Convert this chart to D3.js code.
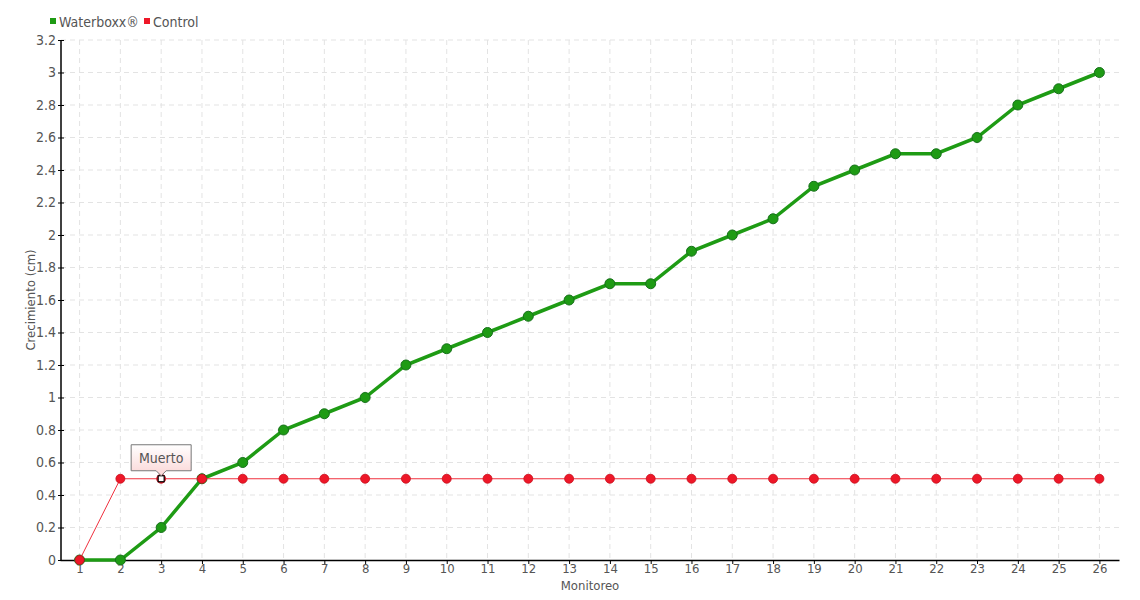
<!DOCTYPE html>
<html>
<head>
  <script src="https://d3js.org/d3.v7.min.js"></script>
  <style>
    body { margin: 0; background: #fff; }
    text { font-family: "Liberation Sans Narrow", "DejaVu Sans Condensed", "Roboto", sans-serif; fill: #555; }
  </style>
</head>
<body>
  <svg id="chart" width="1140" height="600"></svg>
  <script>
    // datos
    var monitoreo = d3.range(1, 27).map(String);
    var waterboxx = [0, 0, 0.2, 0.5, 0.6, 0.8, 0.9, 1.0, 1.2, 1.3, 1.4, 1.5, 1.6, 1.7, 1.7, 1.9, 2.0, 2.1, 2.3, 2.4, 2.5, 2.5, 2.6, 2.8, 2.9, 3.0];
    var control = [0, 0.5, 0.5, 0.5, 0.5, 0.5, 0.5, 0.5, 0.5, 0.5, 0.5, 0.5, 0.5, 0.5, 0.5, 0.5, 0.5, 0.5, 0.5, 0.5, 0.5, 0.5, 0.5, 0.5, 0.5, 0.5];
    var yTicks = [0, 0.2, 0.4, 0.6, 0.8, 1, 1.2, 1.4, 1.6, 1.8, 2, 2.2, 2.4, 2.6, 2.8, 3, 3.2];
    var muertoIndex = 2;

    var svg = d3.select("#chart");
    var pLeft = 61, pRight = 1119, pTop = 40, pBottom = 560;

    var x = d3.scalePoint().domain(monitoreo).range([pLeft - 1, pRight]).padding(0.48);
    var y = d3.scaleLinear().domain([0, 3.2]).range([pBottom, pTop]);

    // rejilla
    var grid = svg.append("g").attr("stroke", "#e3e3e3").attr("stroke-dasharray", "5,4");
    grid.selectAll(".h").data(yTicks.slice(1)).enter().append("line")
      .attr("x1", pLeft).attr("x2", pRight)
      .attr("y1", function(d) { return y(d); }).attr("y2", function(d) { return y(d); });
    grid.selectAll(".v").data(monitoreo).enter().append("line")
      .attr("x1", function(d) { return x(d); }).attr("x2", function(d) { return x(d); })
      .attr("y1", pTop).attr("y2", pBottom);

    // ejes
    var yAxis = svg.append("g").attr("transform", "translate(" + pLeft + ",0)")
      .call(d3.axisLeft(y).tickValues(yTicks).tickSize(3).tickFormat(d3.format("~g")));
    var xAxis = svg.append("g").attr("transform", "translate(0," + pBottom + ")")
      .call(d3.axisBottom(x).tickSize(4).tickSizeOuter(0));
    [yAxis, xAxis].forEach(function(a) {
      a.select(".domain").attr("stroke", "#000").attr("stroke-width", 1.5);
      a.selectAll(".tick line").attr("stroke", "#000");
      a.selectAll("text").attr("font-size", 14).attr("fill", "#555").attr("font-family", null);
    });
    yAxis.select(".domain").attr("d", "M0," + pTop + "V" + pBottom);
    yAxis.selectAll(".tick line").attr("x2", 3).attr("x1", -3);
    yAxis.selectAll("text").attr("x", -5);
    xAxis.selectAll("text").attr("y", 4).attr("font-size", 13);

    svg.append("text").attr("transform", "translate(35," + ((pTop + pBottom) / 2) + ") rotate(-90)")
      .attr("text-anchor", "middle").attr("font-size", 13).text("Crecimiento (cm)");
    svg.append("text").attr("x", (pLeft + pRight) / 2).attr("y", 590)
      .attr("text-anchor", "middle").attr("font-size", 13).text("Monitoreo");

    var line = d3.line().x(function(d, i) { return x(monitoreo[i]); }).y(function(d) { return y(d); });

    // Waterboxx
    svg.append("path").datum(waterboxx).attr("d", line)
      .attr("fill", "none").attr("stroke", "#1e9b14").attr("stroke-width", 3.5);
    svg.selectAll(".wb").data(waterboxx).enter().append("circle")
      .attr("cx", function(d, i) { return x(monitoreo[i]); }).attr("cy", function(d) { return y(d); })
      .attr("r", 5).attr("fill", "#1e9b14").attr("stroke", "#16701a").attr("stroke-width", 1);

    // Control
    svg.append("path").datum(control).attr("d", line)
      .attr("fill", "none").attr("stroke", "#f0303e").attr("stroke-width", 1);
    svg.selectAll(".ct").data(control).enter().append("circle")
      .attr("cx", function(d, i) { return x(monitoreo[i]); }).attr("cy", function(d) { return y(d); })
      .attr("r", 4.5).attr("fill", "#ee1728").attr("stroke", "#c8101e").attr("stroke-width", 0.8);

    // marcador "Muerto"
    var mx = x(monitoreo[muertoIndex]), my = y(control[muertoIndex]);
    svg.append("rect").attr("x", mx - 3).attr("y", my - 3).attr("width", 6).attr("height", 6)
      .attr("fill", "#fff").attr("stroke", "#000").attr("stroke-width", 1.2);

    var defs = svg.append("defs");
    var grad = defs.append("linearGradient").attr("id", "tip").attr("x1", 0).attr("y1", 0).attr("x2", 0).attr("y2", 1);
    grad.append("stop").attr("offset", 0).attr("stop-color", "#fff");
    grad.append("stop").attr("offset", 1).attr("stop-color", "#fbd6d6");
    var bx = mx - 30, by = my - 34, bw = 60, bh = 26;
    svg.append("path")
      .attr("d", "M" + bx + "," + by + "h" + bw + "v" + bh + "h" + (-(bw / 2 - 5)) + "l-5,5l-5,-5h" + (-(bw / 2 - 5)) + "z")
      .attr("fill", "url(#tip)").attr("stroke", "#777").attr("stroke-width", 1);
    svg.append("text").attr("x", mx).attr("y", by + 18).attr("text-anchor", "middle")
      .attr("font-size", 14).text("Muerto");

    // leyenda
    var legend = [{ name: "Waterboxx®", color: "#1e9b14", x: 50 }, { name: "Control", color: "#ee1728", x: 144 }];
    var lg = svg.selectAll(".lg").data(legend).enter().append("g")
      .attr("transform", function(d) { return "translate(" + d.x + ",22)"; });
    lg.append("rect").attr("x", 0).attr("y", -4).attr("width", 6).attr("height", 6).attr("fill", function(d) { return d.color; });
    lg.append("text").attr("x", 9).attr("y", 5).attr("font-size", 14).text(function(d) { return d.name; });
  </script>
</body>
</html>
